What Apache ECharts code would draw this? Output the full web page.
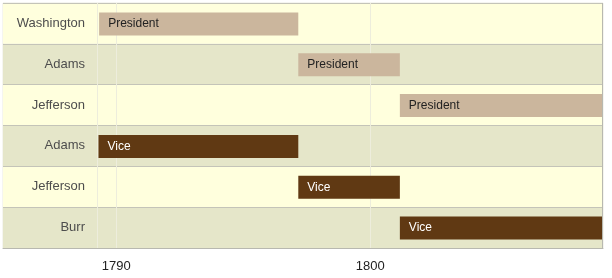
<!DOCTYPE html>
<html>
<head>
<meta charset="utf-8">
<script src="https://cdn.jsdelivr.net/npm/echarts@6/dist/echarts.min.js"></script>
<style>html,body{margin:0;padding:0;background:#fff}#c{width:612px;height:278px}</style>
</head>
<body>
<div id="c"></div>
<script>
// Data
var rowLabels = ['Washington', 'Adams', 'Jefferson', 'Adams', 'Jefferson', 'Burr'];
var barLabels = ['President', 'President', 'President', 'Vice', 'Vice', 'Vice'];
var starts = ['1789-04-30', '1797-03-04', '1801-03-04', '1789-04-21', '1797-03-04', '1801-03-04'];
var ends   = ['1797-03-04', '1801-03-04', '1809-03-04', '1797-03-04', '1801-03-04', '1809-03-04'];
var tickYears = [1790, 1800];

var barColors = {President: '#cbb69d', Vice: '#603913'};
var textColors = {President: '#222222', Vice: '#ffffff'};

// date string -> fractional year
function fy(s) {
  var p = s.split('-'), y = +p[0];
  var t = Date.UTC(y, +p[1] - 1, +p[2]), t0 = Date.UTC(y, 0, 1), t1 = Date.UTC(y + 1, 0, 1);
  return y + (t - t0) / (t1 - t0);
}
var startY = starts.map(fy), endY = ends.map(fy);
var S = Math.min.apply(null, startY), E = Math.max.apply(null, endY);
// label column occupies 95.5px of the 600px plotting width; data occupies the rest
var axisMin = S - (E - S) * 95.5 / 504.5;

var data = rowLabels.map(function (r, i) {
  return {value: [i, startY[i], endY[i]], name: barLabels[i]};
});
var FONT = 'Arial, "Liberation Sans", sans-serif';

var chart = echarts.init(document.getElementById('c'), null, {renderer: 'canvas'});
chart.setOption({
  animation: false,
  backgroundColor: '#ffffff',
  grid: {left: 3, right: 9, top: 3, bottom: 30, show: true, borderColor: '#ebebe0', borderWidth: 1, containLabel: false},
  xAxis: {
    type: 'value', min: axisMin, max: E,
    axisLine: {show: true, lineStyle: {color: '#b8b8b0', width: 1}},
    axisTick: {show: false},
    axisLabel: {
      customValues: tickYears, margin: 12, color: '#222', fontSize: 13, fontFamily: FONT,
      formatter: function (v) { return String(Math.round(v)); }
    },
    splitLine: {show: false}
  },
  yAxis: {
    type: 'category', inverse: true,
    data: rowLabels.map(function (r, i) { return String(i); }),
    axisLine: {show: false}, axisTick: {show: false},
    axisLabel: {
      inside: true, align: 'right', margin: 82, color: '#4d4d4d', fontSize: 13, fontFamily: FONT,
      formatter: function (v) { return rowLabels[+v]; }
    },
    splitLine: {show: true, lineStyle: {color: '#c4c4b8', width: 1}},
    splitArea: {show: true, areaStyle: {color: ['#ffffdd', '#e5e6c9']}}
  },
  series: [{
    type: 'line',
    data: [],
    z: 1,
    markLine: {
      silent: true, symbol: 'none',
      label: {show: false},
      lineStyle: {color: '#ededdc', width: 1, type: 'solid'},
      data: tickYears.map(function (t) { return {xAxis: t}; })
    }
  }, {
    type: 'custom',
    encode: {x: [1, 2], y: 0},
    data: data,
    renderItem: function (params, api) {
      var row = api.value(0);
      var a = api.coord([api.value(1), row]);
      var b = api.coord([api.value(2), row]);
      var h = 23;
      var name = barLabels[params.dataIndex];
      return {
        type: 'rect',
        shape: {x: a[0], y: a[1] - h / 2 + 0.5, width: b[0] - a[0], height: h},
        style: {fill: barColors[name]},
        textContent: {
          style: {text: name, fill: textColors[name], fontSize: 12, fontFamily: FONT}
        },
        textConfig: {position: 'insideLeft', distance: 9}
      };
    },
    z: 5
  }],
  graphic: [
    {type: 'line', z: 1, silent: true, shape: {x1: 97.5, y1: 3, x2: 97.5, y2: 248}, style: {stroke: '#ededdc', lineWidth: 1}},
    {type: 'line', z: 10, silent: true, shape: {x1: 602.5, y1: 3, x2: 602.5, y2: 248}, style: {stroke: '#b8b8b0', lineWidth: 1}}
  ]
});
</script>
</body>
</html>
